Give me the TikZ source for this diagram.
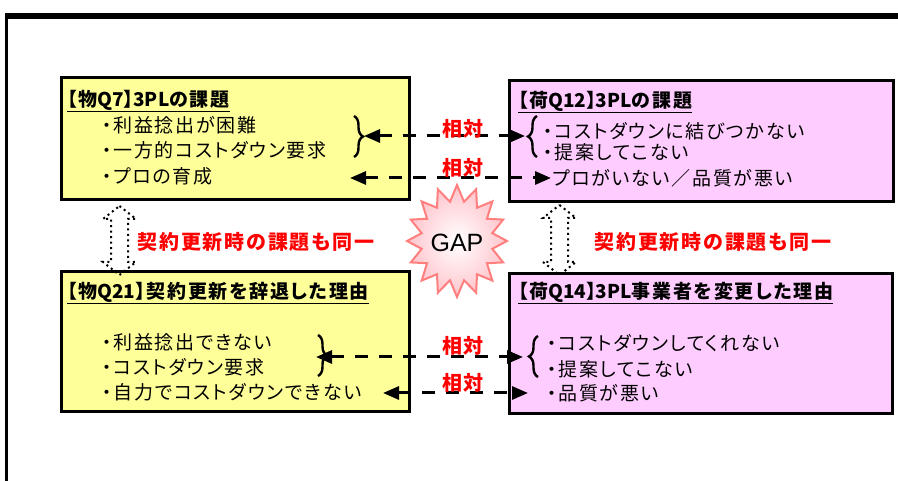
\documentclass[tikz,border=0pt]{standalone}
\usepackage{fontspec}
\setmainfont{Noto Sans CJK JP}[RawFeature=+palt]
\newfontfamily\bodyf{Noto Sans CJK JP}[RawFeature=+palt, LetterSpace=9]
\newfontfamily\arialf{Liberation Sans}
\newcommand{\lat}[1]{{\rmfamily #1}}
\usetikzlibrary{arrows.meta,decorations.pathreplacing}
\definecolor{boxyellow}{HTML}{FFFF99}
\definecolor{boxpink}{HTML}{FFCCFF}
\definecolor{starline}{HTML}{FF7F7F}
\definecolor{starfill}{HTML}{FFC4CC}
\definecolor{labelred}{HTML}{FF0000}
\definecolor{shadowgray}{HTML}{A0A0A0}
\tikzset{
 qbox/.style={line width=2.6pt, draw=black, inner sep=0pt, anchor=north west},
 body/.style={anchor=west, inner sep=0pt, font=\bodyf\fontsize{19}{19}\selectfont},
 ttl/.style={anchor=west, inner sep=0pt, font=\bodyf\fontsize{19}{19}\selectfont\bfseries},
 redlab/.style={text=labelred, inner sep=0pt, font=\bodyf\fontsize{20}{20}\selectfont\bfseries},
 conn/.style={line width=3pt, dash pattern=on 13pt off 11pt,
   {Triangle[length=16pt,width=13pt]}-{Triangle[length=16pt,width=13pt]}},
 bracestyle/.style={line width=2.4pt, decorate, decoration={brace, amplitude=9pt}},
 dotarrow/.style={line width=2pt, dash pattern=on 2pt off 3.5pt},
}
\begin{document}
\begin{tikzpicture}[x=1pt,y=-1pt]
\useasboundingbox (0,0) rectangle (898,481);
% frame
\draw[line width=6.5pt] (5,16) -- (898,16);
\draw[line width=3.5pt] (6.5,13) -- (6.5,481);
% shadows
\fill[shadowgray] (62,78) rectangle (410,200);
\fill[shadowgray] (510,81) rectangle (894,202);
\fill[shadowgray] (62,272) rectangle (410,412);
\fill[shadowgray] (510,274) rectangle (894,414);
% boxes
\node[qbox, fill=boxyellow, minimum width=348pt, minimum height=122pt] (b1) at (60,76) {};
\node[qbox, fill=boxpink, minimum width=384pt, minimum height=121pt] (b2) at (508,79) {};
\node[qbox, fill=boxyellow, minimum width=348pt, minimum height=140pt] (b3) at (60,270) {};
\node[qbox, fill=boxpink, minimum width=383pt, minimum height=140pt] (b4) at (508,272) {};
% titles
\node[ttl] (t1) at (67,101) {\underline{【物\lat{Q7}】\lat{3PL}の課題}};
\node[ttl] (t2) at (518,102) {\underline{【荷\lat{Q12}】\lat{3PL}の課題}};
\node[ttl] (t3) at (67,293) {\underline{【物\lat{Q21}】契約更新を辞退した理由}};
\node[ttl] (t4) at (518,293) {\underline{【荷\lat{Q14}】\lat{3PL}事業者を変更した理由}};
% body lines
\node[body] (l11) at (102,125) {・利益捻出が困難};
\node[body] (l12) at (102,150) {・一方的コストダウン要求};
\node[body] (l13) at (102,176) {・プロの育成};
\node[body] (l21) at (543,131) {・コストダウンに結びつかない};
\node[body] (l22) at (543,152) {・提案してこない};
\node[body] (l23) at (552,178) {プロがいない／品質が悪い};
\node[body] (l31) at (102,342) {・利益捻出できない};
\node[body] (l32) at (102,367) {・コストダウン要求};
\node[body] (l33) at (102,392) {・自力でコストダウンできない};
\node[body] (l41) at (547,343) {・コストダウンしてくれない};
\node[body] (l42) at (547,369) {・提案してこない};
\node[body] (l43) at (547,393) {・品質が悪い};
% braces
\draw[bracestyle] (354,116) -- (354,157);
\draw[bracestyle] (537,157) -- (537,116);
\draw[bracestyle] (318,335) -- (318,376);
\draw[bracestyle] (538,377) -- (538,336);
% connectors
\coordinate (c1a) at (364,136); \coordinate (c1b) at (525,136);
\coordinate (c2a) at (350,178); \coordinate (c2b) at (551,178);
\coordinate (c3a) at (316,357); \coordinate (c3b) at (523,357);
\coordinate (c4a) at (383,393); \coordinate (c4b) at (528,393);
\draw[conn] (c1a) -- (c1b);
\draw[conn] (c2a) -- (c2b);
\draw[conn] (c3a) -- (c3b);
\draw[conn] (c4a) -- (c4b);
% labels
\node[redlab] (r1) at (463,129) {相対};
\node[redlab] (r2) at (463,168) {相対};
\node[redlab] (r3) at (463,346) {相対};
\node[redlab] (r4) at (463,383) {相対};
\node[redlab] (s1) at (256,242) {契約更新時の課題も同一};
\node[redlab] (s2) at (713,242) {契約更新時の課題も同一};
% star
\shadedraw[inner color=white, outer color=starfill, draw=starline, line width=2pt, line join=miter]
  plot[variable=\k, samples at={0,...,31}]
  ({457+(mod(\k,2)==0?50:36)*sin(\k*11.25)}, {241-(mod(\k,2)==0?56:40)*cos(\k*11.25)}) -- cycle;
\node[inner sep=0pt, font=\arialf\fontsize{25}{25}\selectfont] (gap) at (457,243) {GAP};
% dotted double arrows
\draw[dotarrow] (119.5,206) -- (136,219) -- (128,219) -- (128,262) -- (136,262) -- (119.5,275)
  -- (103,262) -- (111,262) -- (111,219) -- (103,219) -- cycle;
\draw[dotarrow] (559.5,205) -- (576,218) -- (568,218) -- (568,262) -- (576,262) -- (559.5,275)
  -- (543,262) -- (551,262) -- (551,218) -- (543,218) -- cycle;
\end{tikzpicture}
\end{document}
